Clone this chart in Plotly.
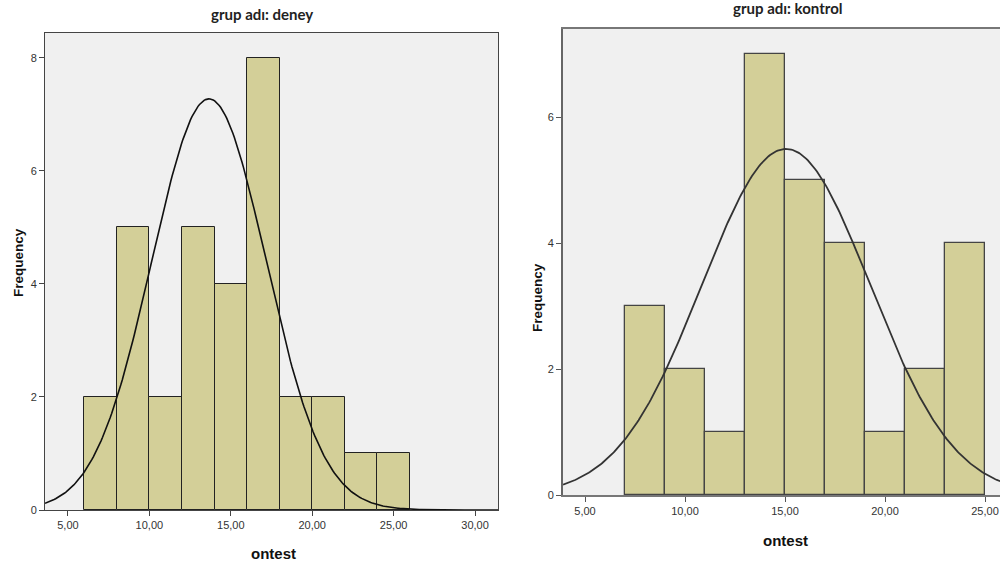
import numpy as np
import plotly.graph_objects as go

# ---- data ----
bin_width = 2
deney_bin_starts = [6, 8, 10, 12, 14, 16, 18, 20, 22, 24]
deney_counts = [2, 5, 2, 5, 4, 8, 2, 2, 1, 1]
deney_mean = 13.66
deney_sd = 3.51

kontrol_bin_starts = [7, 9, 11, 13, 15, 17, 19, 21, 23]
kontrol_counts = [3, 2, 1, 7, 5, 4, 1, 2, 4]
kontrol_mean = 15.05
kontrol_sd = 4.21

left_xticks = [5, 10, 15, 20, 25, 30]
left_xticktext = ["5,00", "10,00", "15,00", "20,00", "25,00", "30,00"]
right_xticks = [5, 10, 15, 20, 25]
right_xticktext = ["5,00", "10,00", "15,00", "20,00", "25,00"]
left_yticks = [0, 2, 4, 6, 8]
right_yticks = [0, 2, 4, 6]

BAR = "#D3CF98"
BG = "#F0F0F0"
TICKFONT = dict(family="Liberation Sans, Arial", size=11, color="#333333")


def normal_curve(mean, sd, n, lo, hi):
    xs = np.linspace(lo, hi, 300)
    ys = n * bin_width / (sd * np.sqrt(2 * np.pi)) * np.exp(-0.5 * ((xs - mean) / sd) ** 2)
    return xs, ys


fig = go.Figure()

# left panel: deney
fig.add_trace(go.Bar(
    x=[s + bin_width / 2 for s in deney_bin_starts], y=deney_counts, width=bin_width,
    marker=dict(color=BAR, line=dict(color="#222222", width=1)),
    xaxis="x", yaxis="y", showlegend=False))
lx, ly = normal_curve(deney_mean, deney_sd, sum(deney_counts), 3.59, 31.41)
fig.add_trace(go.Scatter(x=lx, y=ly, mode="lines", line=dict(color="#111111", width=1.6),
                         xaxis="x", yaxis="y", showlegend=False))

# right panel: kontrol
fig.add_trace(go.Bar(
    x=[s + bin_width / 2 for s in kontrol_bin_starts], y=kontrol_counts, width=bin_width,
    marker=dict(color=BAR, line=dict(color="#444444", width=1.3)),
    xaxis="x2", yaxis="y2", showlegend=False))
rx, ry = normal_curve(kontrol_mean, kontrol_sd, sum(kontrol_counts), 3.9, 26.5)
fig.add_trace(go.Scatter(x=rx, y=ry, mode="lines", line=dict(color="#333333", width=1.8),
                         xaxis="x2", yaxis="y2", showlegend=False))

W, H = 1000, 569


def px(x):
    return x / W


def py(y):
    return 1 - y / H


common_axis = dict(showgrid=False, zeroline=False, ticks="outside", ticklen=5,
                   tickfont=TICKFONT, fixedrange=True, automargin=False)

fig.update_layout(
    width=W, height=H,
    margin=dict(l=0, r=0, t=0, b=0, pad=0),
    paper_bgcolor="white", plot_bgcolor=BG,
    bargap=0,
    xaxis=dict(domain=[px(45), px(498)], range=[3.59, 31.41], anchor="y",
               tickvals=left_xticks, ticktext=left_xticktext,
               showline=True, mirror=True, linecolor="#444444", linewidth=1,
               tickcolor="#444444", **common_axis),
    yaxis=dict(domain=[py(510), py(33)], range=[0, 8.44], anchor="x",
               tickvals=left_yticks,
               showline=True, mirror=True, linecolor="#444444", linewidth=1,
               tickcolor="#444444", **common_axis),
    xaxis2=dict(domain=[px(563), 1.0], range=[3.9, 25.75], anchor="y2",
                tickvals=right_xticks, ticktext=right_xticktext,
                showline=True, mirror=True, linecolor="#777777", linewidth=2,
                tickcolor="#555555", **common_axis),
    yaxis2=dict(domain=[py(495), py(29)], range=[0, 7.4], anchor="x2",
                tickvals=right_yticks,
                showline=True, mirror=False, linecolor="#666666", linewidth=2,
                tickcolor="#555555", **common_axis),
)

TITLEFONT = dict(family="Lato, Open Sans, sans-serif", size=15, color="#222222")
XLABELFONT = dict(family="Liberation Sans, Arial", size=15, color="#111111")
YLABELFONT = dict(family="Liberation Sans, Arial", size=13.5, color="#111111")

annotations = [
    dict(text="<b>grup adı: deney</b>", x=px(262), y=py(14), font=TITLEFONT),
    dict(text="<b>grup adı: kontrol</b>", x=px(788), y=py(8), font=TITLEFONT),
    dict(text="<b>ontest</b>", x=px(273), y=py(553), font=XLABELFONT),
    dict(text="<b>ontest</b>", x=px(785), y=py(540), font=XLABELFONT),
    dict(text="<b>Frequency</b>", x=px(18), y=py(263), font=YLABELFONT, textangle=-90),
    dict(text="<b>Frequency</b>", x=px(537), y=py(298), font=YLABELFONT, textangle=-90),
]
for a in annotations:
    fig.add_annotation(xref="paper", yref="paper", showarrow=False,
                       xanchor="center", yanchor="middle", **a)

fig.write_html("out.html", config={"displayModeBar": False},
               post_script="document.body.style.margin='0';document.body.style.overflow='hidden';")
